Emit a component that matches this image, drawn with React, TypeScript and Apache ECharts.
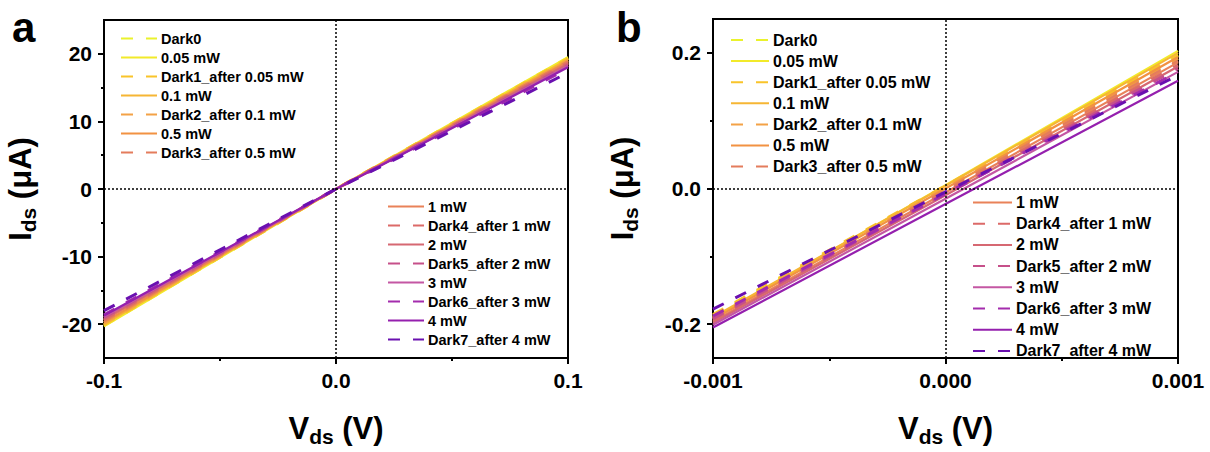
import React, { useEffect, useRef } from 'react';
import * as echarts from 'echarts';

const FONT = 'Arial, "Liberation Sans", Helvetica, sans-serif';

const seriesNames = [
  'Dark0',
  '0.05 mW',
  'Dark1_after 0.05 mW',
  '0.1 mW',
  'Dark2_after 0.1 mW',
  '0.5 mW',
  'Dark3_after 0.5 mW',
  '1 mW',
  'Dark4_after 1 mW',
  '2 mW',
  'Dark5_after 2 mW',
  '3 mW',
  'Dark6_after 3 mW',
  '4 mW',
  'Dark7_after 4 mW',
];

const seriesColors = [
  '#eaf22c', '#f2ea2a', '#f9c42a', '#f6b634', '#f3a246', '#f29242', '#e47c5c', '#e98259',
  '#dc6a68', '#d66872', '#c6508a', '#c457a3', '#a42cad', '#9520ae', '#6a10b0',
];

// Panel a: V (V) and I (uA)
const voltsA = [-0.1, 0, 0.1];
const currentA = [
  [-20.2, 0.0, 19.4], [-20.3, 0.0, 19.5], [-20.1, 0.0, 19.3], [-20.0, 0.0, 19.2],
  [-19.8, 0.0, 19.0], [-19.7, 0.0, 18.9], [-19.5, 0.0, 18.8], [-19.4, 0.0, 18.7],
  [-19.3, 0.0, 18.6], [-19.2, 0.0, 18.5], [-19.0, 0.0, 18.3], [-18.9, 0.0, 18.2],
  [-18.6, 0.0, 17.8], [-18.7, 0.0, 18.0], [-18.0, 0.0, 17.2],
];

// Panel b: V (V) and I (uA)
const voltsB = [-0.001, 0, 0.001];
const currentB = [
  [-0.188, 0.003, 0.197], [-0.192, 0.005, 0.203], [-0.186, 0.004, 0.196], [-0.19, 0.004, 0.2],
  [-0.19, 0.0, 0.192], [-0.193, 0.0, 0.194], [-0.192, -0.003, 0.188], [-0.196, -0.006, 0.186],
  [-0.194, -0.006, 0.182], [-0.198, -0.01, 0.18], [-0.192, -0.008, 0.177], [-0.201, -0.015, 0.172],
  [-0.188, -0.008, 0.172], [-0.205, -0.023, 0.159], [-0.178, -0.005, 0.167],
];

const xTicksA = [-0.1, 0, 0.1];
const xMinorA = [-0.05, 0.05];
const xTicksB = [-0.001, 0, 0.001];
const xMinorB = [-0.0005, 0.0005];
const yTicksA = [-20, -10, 0, 10, 20];
const yMinorA = [-15, -5, 5, 15];
const yTicksB = [-0.2, 0, 0.2];
const yMinorB = [-0.1, 0.1];

const legendTop = seriesNames.slice(0, 7);
const legendBottom = seriesNames.slice(7);

const black = '#000';

const tickLabel = (margin: number) => ({
  fontSize: 21, fontWeight: 'bold' as const, fontFamily: FONT, color: black, margin,
});

const titleRich = {
  m: { fontSize: 31, fontWeight: 'bold', fontFamily: FONT, color: black },
  s: { fontSize: 21, fontWeight: 'bold', fontFamily: FONT, color: black, padding: [16, 0, 0, 0] },
};

const tickLine = { color: black, width: 2 };

function minorAxis(grid: number, lim: number, minor: number[], position: string) {
  return {
    gridIndex: grid, type: 'value', position, offset: 0, min: -lim, max: lim,
    axisLine: { show: false, onZero: false },
    axisTick: { customValues: minor, length: 3, lineStyle: tickLine },
    axisLabel: { show: false },
    splitLine: { show: false },
  };
}

function xAxisCfgs(grid: number, lim: number, ticks: number[], minor: number[], digits: number) {
  return [
    {
      gridIndex: grid, type: 'value', position: 'bottom', min: -lim, max: lim,
      axisLine: { onZero: false, lineStyle: { color: black, width: 2 } },
      axisTick: { customValues: ticks, length: 6, lineStyle: tickLine },
      splitLine: { show: false },
      axisLabel: { ...tickLabel(12), customValues: ticks, formatter: (v: number) => v.toFixed(digits) },
      name: '{m|V}{s|ds}{m| (V)}', nameLocation: 'middle', nameGap: 52,
      nameTextStyle: { rich: titleRich },
    },
    minorAxis(grid, lim, minor, 'bottom'),
  ];
}

function yAxisCfgs(grid: number, lim: number, ticks: number[], minor: number[], digits: number, gap: number) {
  return [
    {
      gridIndex: grid, type: 'value', position: 'left', min: -lim, max: lim,
      axisLine: { onZero: false, lineStyle: { color: black, width: 2 } },
      axisTick: { customValues: ticks, length: 6, lineStyle: tickLine },
      splitLine: { show: false },
      axisLabel: { ...tickLabel(12), customValues: ticks, formatter: (v: number) => v.toFixed(digits) },
      name: '{m|I}{s|ds}{m| (μA)}', nameLocation: 'middle', nameGap: gap, nameRotate: 90,
      nameTextStyle: { rich: titleRich },
    },
    minorAxis(grid, lim, minor, 'left'),
  ];
}

function legendCfg(data: string[], left: number, top: number, w: number, gap: number, fs: number) {
  return {
    data, orient: 'vertical', left, top, itemWidth: w, itemHeight: 14, itemGap: gap, padding: 0,
    itemStyle: { opacity: 0 },
    textStyle: { fontSize: fs, fontWeight: 'bold', fontFamily: FONT, color: black, padding: [0, 0, 0, -1] },
  };
}

const zeroLines = {
  silent: true, symbol: ['none', 'none'], label: { show: false },
  lineStyle: { type: [2, 2], color: black, width: 1.5 },
  data: [{ xAxis: 0 }, { yAxis: 0 }],
};

function buildSeries(xIdx: number, yIdx: number, volts: number[], currents: number[][]) {
  return seriesNames.map((name, i) => {
    const dashed = name.startsWith('Dark');
    return {
      name, type: 'line', xAxisIndex: xIdx, yAxisIndex: yIdx, symbol: 'none', z: 2,
      data: volts.map((v, k) => [v, currents[i][k]]),
      lineStyle: { color: seriesColors[i], width: dashed ? 3 : 2.2, type: dashed ? [12, 13] : 'solid' },
      itemStyle: { color: seriesColors[i] },
      ...(i === 0 ? { markLine: zeroLines } : {}),
    };
  });
}

export default function App() {
  const ref = useRef<HTMLDivElement>(null);
  useEffect(() => {
    if (!ref.current) return;
    const chart = echarts.init(ref.current, null, { renderer: 'svg' });
    const option = {
      animation: false,
      backgroundColor: '#fff',
      grid: [
        { left: 104, top: 20, width: 464, height: 342, show: true, borderColor: black, borderWidth: 2, backgroundColor: 'transparent' },
        { left: 713, top: 19, width: 465, height: 342, show: true, borderColor: black, borderWidth: 2, backgroundColor: 'transparent' },
      ],
      xAxis: [
        ...xAxisCfgs(0, 0.1, xTicksA, xMinorA, 1),
        ...xAxisCfgs(1, 0.001, xTicksB, xMinorB, 3),
      ],
      yAxis: [
        ...yAxisCfgs(0, 25, yTicksA, yMinorA, 0, 65),
        ...yAxisCfgs(1, 0.25, yTicksB, yMinorB, 1, 72),
      ],
      legend: [
        legendCfg(legendTop, 120, 31, 36, 4.0, 14.5),
        legendCfg(legendBottom, 387, 199, 36, 4.0, 14.5),
        legendCfg(legendTop, 730, 32, 38, 5.1, 16),
        legendCfg(legendBottom, 972, 194.5, 39, 5.2, 16),
      ],
      graphic: [
        { type: 'text', left: 12, top: 6, style: { text: 'a', fontSize: 42, fontWeight: 'bold', fontFamily: FONT, fill: black } },
        { type: 'text', left: 616, top: 6, style: { text: 'b', fontSize: 42, fontWeight: 'bold', fontFamily: FONT, fill: black } },
      ],
      series: [...buildSeries(0, 0, voltsA, currentA), ...buildSeries(2, 2, voltsB, currentB)],
    };
    chart.setOption(option as any);
    return () => chart.dispose();
  }, []);
  return <div ref={ref} style={{ position: 'fixed', left: 0, top: 0, width: 1210, height: 452, background: '#fff' }} />;
}
